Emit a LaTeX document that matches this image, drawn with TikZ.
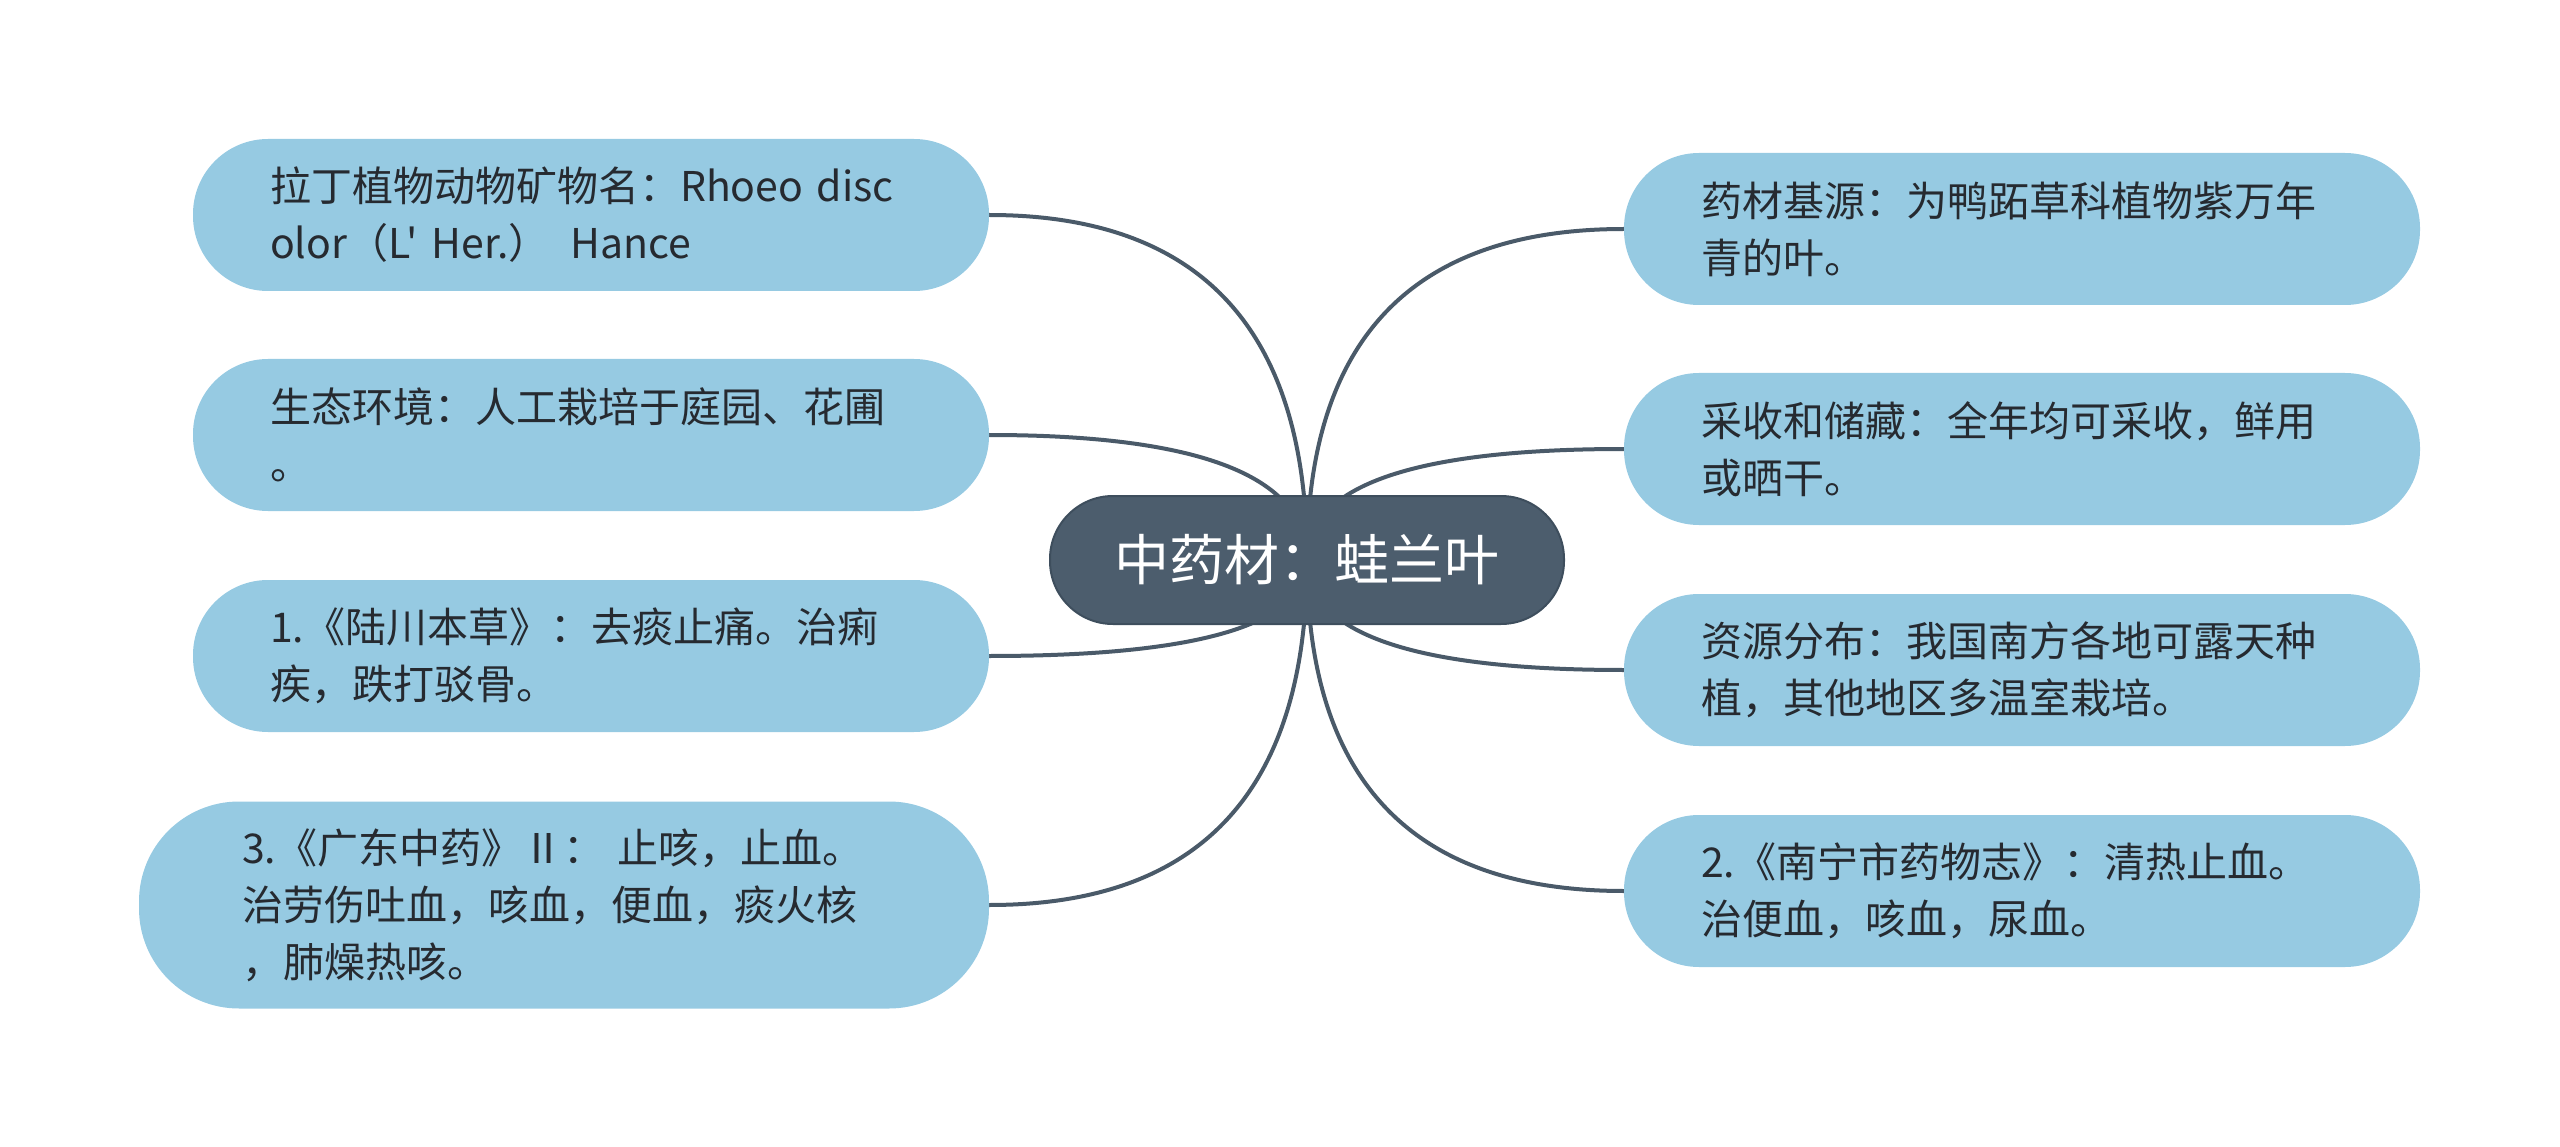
\documentclass[tikz,border=0pt]{standalone}
\usepackage{fontspec}
\newfontfamily\cjkfont{Noto Sans CJK SC}
\usetikzlibrary{backgrounds,calc}
\definecolor{leaffill}{RGB}{150,202,226}
\definecolor{rootfill}{RGB}{76,93,109}
\definecolor{rootline}{RGB}{62,78,93}
\definecolor{linkcol}{RGB}{74,90,105}
\definecolor{txtcol}{RGB}{38,42,48}
\tikzset{
  leaf/.style={rectangle, fill=leaffill, rounded corners=75pt,
    minimum width=796pt, minimum height=152pt, text width=642pt,
    inner xsep=77pt, inner ysep=10pt, align=left, text=txtcol,
    font=\cjkfont\fontsize{41}{57}\selectfont},
  bigleaf/.style={leaf, rounded corners=100pt, minimum width=850pt,
    minimum height=207pt, text width=644pt, inner xsep=103pt},
  rootbox/.style={rectangle, fill=rootfill, draw=rootline, line width=2pt,
    rounded corners=63pt, minimum width=514pt, minimum height=128pt,
    text=white, font=\cjkfont\fontsize{55}{66}\selectfont},
  link/.style={draw=linkcol, line width=4pt}
}
\begin{document}
\begin{tikzpicture}[x=1pt,y=-1pt]
\useasboundingbox (0,0) rectangle (2560,1147);
\node[rootbox] (root) at (1307,560) {中药材：蛙兰叶};
\node[leaf] (l1) at (591,215) {拉丁植物动物矿物名：Rhoeo disc\\olor（L' Her.） Hance};
\node[leaf] (l2) at (591,435) {生态环境：人工栽培于庭园、花圃\\。};
\node[leaf] (l3) at (591,656) {1.《陆川本草》：去痰止痛。治痢\\疾，跌打驳骨。};
\node[bigleaf] (l4) at (564,905) {3.《广东中药》Ⅱ： 止咳，止血。\\治劳伤吐血，咳血，便血，痰火核\\，肺燥热咳。};
\node[leaf] (r1) at (2022,229) {药材基源：为鸭跖草科植物紫万年\\青的叶。};
\node[leaf] (r2) at (2022,449) {采收和储藏：全年均可采收，鲜用\\或晒干。};
\node[leaf] (r3) at (2022,670) {资源分布：我国南方各地可露天种\\植，其他地区多温室栽培。};
\node[leaf] (r4) at (2022,891) {2.《南宁市药物志》：清热止血。\\治便血，咳血，尿血。};
\begin{pgfonlayer}{background}
\foreach \n in {l1,l2,l3,l4}{
  \path[link] (root.center) .. controls ($(root.center)!0.667!(root.center |- \n.east)$) and ($(\n.east)!0.667!(root.center |- \n.east)$) .. (\n.east);
}
\foreach \n in {r1,r2,r3,r4}{
  \path[link] (root.center) .. controls ($(root.center)!0.667!(root.center |- \n.west)$) and ($(\n.west)!0.667!(root.center |- \n.west)$) .. (\n.west);
}
\end{pgfonlayer}
\end{tikzpicture}
\end{document}
